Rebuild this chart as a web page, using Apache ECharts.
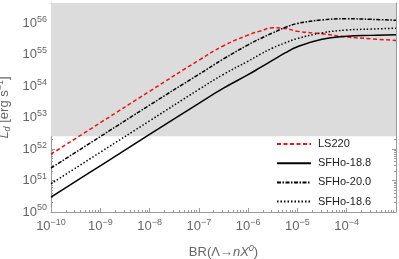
<!DOCTYPE html>
<html><head><meta charset="utf-8">
<script src="https://cdn.jsdelivr.net/npm/echarts@6/dist/echarts.min.js"></script>
<style>html,body{margin:0;padding:0;background:#fff}#c{width:399px;height:259px}</style>
</head><body><div id="c"></div>
<script>
// ---- data ----
const brValues = [1e-10, 1e-9, 1e-8, 1e-7, 3.16e-7, 1e-6, 1.78e-6, 3.16e-6, 5.62e-6, 1e-5, 3.16e-5, 1e-4, 3.16e-4, 1e-3];
const seriesNames = ['LS220', 'SFHo-18.8', 'SFHo-20.0', 'SFHo-18.6'];
const ls220 =    [6.92e51, 6.92e52, 6.92e53, 6.76e54, 1.95e55, 4.27e55, 5.75e55, 7.24e55, 6.92e55, 5.62e55, 4.68e55, 3.72e55, 3.24e55, 2.88e55];
const sfho188 =  [2.95e50, 2.95e51, 2.95e52, 2.88e53, 8.71e53, 2.34e54, 3.98e54, 6.76e54, 1.15e55, 1.82e55, 3.16e55, 3.89e55, 4.17e55, 4.37e55];
const sfho200 =  [2.51e51, 2.51e52, 2.51e53, 2.40e54, 7.41e54, 2.09e55, 3.31e55, 5.01e55, 7.41e55, 1.00e56, 1.29e56, 1.41e56, 1.35e56, 1.26e56];
const sfho186 =  [7.94e50, 7.94e51, 7.94e52, 7.94e53, 2.40e54, 6.31e54, 1.05e55, 1.66e55, 2.40e55, 3.31e55, 5.01e55, 6.17e55, 6.61e55, 7.08e55];
const xMin = 1e-10, xMax = 1e-3;
const yMin = 1e50, yMax = 4.47e56;
const grayFrom = 2.57e52;   // lower edge of the shaded region
const xDecades = [-10, -9, -8, -7, -6, -5, -4, -3];
const yDecades = [50, 51, 52, 53, 54, 55, 56];

function minorValues(decades) {
  const out = [];
  decades.forEach(d => { for (let k = 2; k <= 9; k++) out.push(k * Math.pow(10, d)); });
  return out;
}
const xMinor = minorValues(xDecades);
const yMinor = minorValues(yDecades);

const axisColor = '#9a9a9a';
const labelColor = '#666';
const FONT = 'Liberation Sans, Arial, sans-serif';

function powLabel(v) {
  const e = Math.log10(v);
  const r = Math.round(e);
  if (Math.abs(e - r) > 1e-6) return '';
  return '{b|10}{s|' + String(r).replace('-', '\u2212') + '}';
}
const labelRich = {
  b: { fontSize: 13, color: labelColor, fontFamily: FONT },
  s: { fontSize: 9, color: labelColor, fontFamily: FONT, padding: [0, 0, 8, 0] }
};

function mkX(pos, major, withLabel) {
  return {
    type: 'log', min: xMin, max: xMax, position: pos, interval: 1,
    axisLine: { show: major, lineStyle: { color: axisColor, width: 1 } },
    axisTick: major ? { show: true, inside: true, length: 4, lineStyle: { color: axisColor } }
                    : { show: true, inside: true, length: 2, customValues: xMinor, lineStyle: { color: axisColor } },
    axisLabel: withLabel ? {
      show: true, margin: 6, formatter: v => (v >= xMax * 0.999 ? '' : powLabel(v)), rich: labelRich
    } : { show: false },
    splitLine: { show: false }
  };
}
function mkY(pos, major, withLabel) {
  return {
    type: 'log', min: yMin, max: yMax, position: pos, interval: 1,
    axisLine: { show: major, lineStyle: { color: axisColor, width: 1 } },
    axisTick: major ? { show: true, inside: true, length: 4, lineStyle: { color: axisColor } }
                    : { show: true, inside: true, length: 2, customValues: yMinor, lineStyle: { color: axisColor } },
    axisLabel: withLabel ? { show: true, margin: 4, formatter: powLabel, rich: labelRich } : { show: false },
    splitLine: { show: false }
  };
}

const xAxes = [mkX('bottom', true, true), mkX('bottom', false, false), mkX('top', true, false), mkX('top', false, false)];
xAxes[0].name = '{n|BR(\u039B\u2192}{i|nX}{si|0}{n|)}';
xAxes[0].nameLocation = 'middle';
xAxes[0].nameGap = 32;
xAxes[0].nameTextStyle = {
  rich: {
    n: { fontSize: 13, color: labelColor, fontFamily: FONT },
    i: { fontSize: 13, color: labelColor, fontFamily: FONT, fontStyle: 'italic' },
    si: { fontSize: 9, color: labelColor, fontFamily: FONT, fontStyle: 'italic', padding: [0, 0, 8, 0] }
  }
};
const yAxes = [mkY('left', true, true), mkY('left', false, false), mkY('right', true, false), mkY('right', false, false)];
yAxes[0].name = '{i|L}{sub|d}{n| [erg s}{sup|\u22121}{n|]}';
yAxes[0].nameLocation = 'middle';
yAxes[0].nameRotate = 90;
yAxes[0].nameGap = 34;
yAxes[0].nameTextStyle = {
  rich: {
    n: { fontSize: 13, color: labelColor, fontFamily: FONT },
    i: { fontSize: 13, color: labelColor, fontFamily: FONT, fontStyle: 'italic' },
    sub: { fontSize: 9, color: labelColor, fontFamily: FONT, fontStyle: 'italic', padding: [6, 0, 0, 0] },
    sup: { fontSize: 9, color: labelColor, fontFamily: FONT, padding: [0, 0, 8, 0] }
  }
};

function pairs(ys) { return brValues.map((x, i) => [x, ys[i]]); }

const styles = [
  { color: '#e8141c', type: [4, 2.5], width: 1.5 },
  { color: '#000', type: 'solid', width: 1.5 },
  { color: '#000', type: [4, 1.5, 1.5, 1.5], width: 1.5 },
  { color: '#000', type: [1.5, 2], width: 1.5 }
];
const datas = [ls220, sfho188, sfho200, sfho186];

const series = datas.map((d, i) => ({
  name: seriesNames[i], type: 'line', data: pairs(d), xAxisIndex: 0, yAxisIndex: 0,
  showSymbol: false, symbol: 'none', smooth: 0.45,
  lineStyle: styles[i], itemStyle: { color: styles[i].color }, z: 3
}));
series[0].markArea = {
  silent: true, itemStyle: { color: '#dcdcdc' },
  data: [[{ yAxis: grayFrom }, { yAxis: yMax }]]
};

const chart = echarts.init(document.getElementById('c'), null, { renderer: 'canvas' });
chart.setOption({
  animation: false,
  backgroundColor: '#fff',
  grid: { left: 51, right: 3, top: 3, bottom: 47, containLabel: false, outerBoundsMode: 'none' },
  xAxis: xAxes,
  yAxis: yAxes,
  legend: {
    orient: 'vertical', left: 276, top: 138, padding: 0,
    itemWidth: 34, itemHeight: 10, itemGap: 7.2,
    data: seriesNames,
    itemStyle: { opacity: 0 },
    textStyle: { fontSize: 11, lineHeight: 12, color: '#222', fontFamily: FONT, padding: [0, 0, 0, 2] },
    backgroundColor: 'transparent'
  },
  series: series
});
</script></body></html>
